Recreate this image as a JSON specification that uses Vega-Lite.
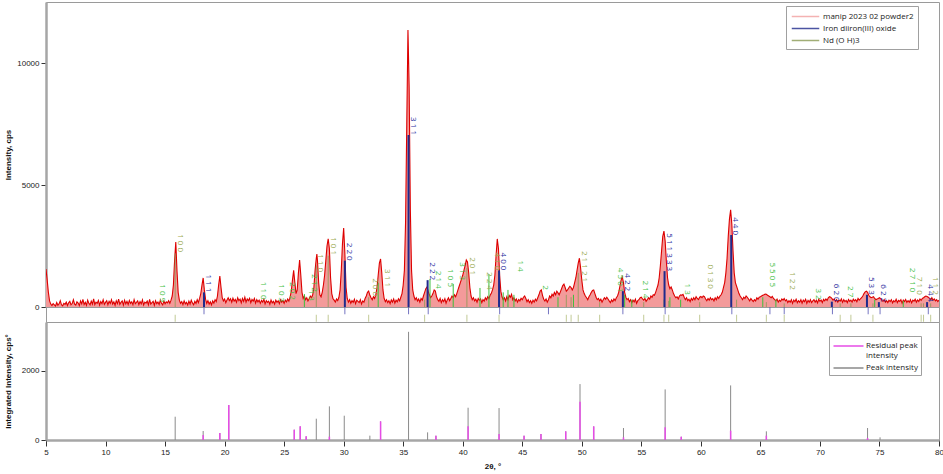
{
  "$schema": "https://vega.github.io/schema/vega-lite/v6.json",
  "background": "white",
  "padding": {"left": 3, "top": 1, "right": 4, "bottom": 0},
  "spacing": 0,
  "bounds": "flush",
  "config": {
    "font": "Liberation Sans",
    "view": {"stroke": "#9a9a9a", "strokeWidth": 1},
    "axis": {"labelFontSize": 8, "titleFontSize": 8, "titleFontWeight": "bold", "labelColor": "#222", "titleColor": "#111", "tickColor": "#333", "domainColor": "#a6a6a6", "domainWidth": 2.5, "grid": false, "labelFont": "Liberation Sans", "titleFont": "Liberation Sans", "tickSize": 5},
    "legend": {"labelFont": "Open Sans", "labelFontSize": 8, "labelColor": "#222"}
  },
  "resolve": {"scale": {"x": "independent", "y": "independent", "color": "independent"}, "legend": {"color": "independent"}},
  "datasets": {
    "xrd": [
{"t":5.0,"c":1560},{"t":5.1,"c":1100},{"t":5.2,"c":600},{"t":5.3,"c":250},{"t":5.4,"c":120},{"t":5.5,"c":60},{"t":5.6,"c":140},{"t":5.7,"c":90},{"t":5.8,"c":40},{"t":5.9,"c":180},
{"t":6.0,"c":70},{"t":6.1,"c":130},{"t":6.2,"c":260},{"t":6.3,"c":90},{"t":6.4,"c":50},{"t":6.5,"c":150},{"t":6.6,"c":110},{"t":6.7,"c":200},{"t":6.8,"c":60},{"t":6.9,"c":170},
{"t":7.0,"c":230},{"t":7.1,"c":90},{"t":7.2,"c":140},{"t":7.3,"c":300},{"t":7.4,"c":120},{"t":7.5,"c":80},{"t":7.6,"c":210},{"t":7.7,"c":160},{"t":7.8,"c":60},{"t":7.9,"c":250},
{"t":8.0,"c":130},{"t":8.1,"c":310},{"t":8.2,"c":100},{"t":8.3,"c":190},{"t":8.4,"c":70},{"t":8.5,"c":280},{"t":8.6,"c":150},{"t":8.7,"c":90},{"t":8.8,"c":240},{"t":8.9,"c":120},
{"t":9.0,"c":330},{"t":9.1,"c":100},{"t":9.2,"c":200},{"t":9.3,"c":150},{"t":9.4,"c":270},{"t":9.5,"c":80},{"t":9.6,"c":220},{"t":9.7,"c":140},{"t":9.8,"c":300},{"t":9.9,"c":110},
{"t":10.0,"c":190},{"t":10.1,"c":260},{"t":10.2,"c":90},{"t":10.3,"c":230},{"t":10.4,"c":150},{"t":10.5,"c":300},{"t":10.6,"c":120},{"t":10.7,"c":210},{"t":10.8,"c":70},{"t":10.9,"c":260},
{"t":11.0,"c":140},{"t":11.1,"c":320},{"t":11.2,"c":110},{"t":11.3,"c":190},{"t":11.4,"c":250},{"t":11.5,"c":80},{"t":11.6,"c":280},{"t":11.7,"c":130},{"t":11.8,"c":230},{"t":11.9,"c":100},
{"t":12.0,"c":270},{"t":12.1,"c":150},{"t":12.2,"c":210},{"t":12.3,"c":90},{"t":12.4,"c":300},{"t":12.5,"c":140},{"t":12.6,"c":190},{"t":12.7,"c":250},{"t":12.8,"c":100},{"t":12.9,"c":220},
{"t":13.0,"c":130},{"t":13.1,"c":290},{"t":13.2,"c":80},{"t":13.3,"c":200},{"t":13.4,"c":160},{"t":13.5,"c":240},{"t":13.6,"c":90},{"t":13.7,"c":310},{"t":13.8,"c":120},{"t":13.9,"c":180},
{"t":14.0,"c":230},{"t":14.1,"c":70},{"t":14.2,"c":260},{"t":14.3,"c":140},{"t":14.4,"c":200},{"t":14.5,"c":100},{"t":14.6,"c":280},{"t":14.7,"c":150},{"t":14.8,"c":90},{"t":14.9,"c":240},
{"t":15.0,"c":130},{"t":15.1,"c":210},{"t":15.2,"c":170},{"t":15.3,"c":260},{"t":15.4,"c":150},{"t":15.5,"c":280},{"t":15.6,"c":450},{"t":15.7,"c":900},{"t":15.8,"c":1900},{"t":15.9,"c":2660},
{"t":16.0,"c":1500},{"t":16.1,"c":600},{"t":16.2,"c":280},{"t":16.3,"c":150},{"t":16.4,"c":220},{"t":16.5,"c":100},{"t":16.6,"c":250},{"t":16.7,"c":130},{"t":16.8,"c":190},{"t":16.9,"c":80},
{"t":17.0,"c":240},{"t":17.1,"c":120},{"t":17.2,"c":280},{"t":17.3,"c":160},{"t":17.4,"c":90},{"t":17.5,"c":230},{"t":17.6,"c":150},{"t":17.7,"c":300},{"t":17.8,"c":180},{"t":17.9,"c":350},
{"t":18.0,"c":550},{"t":18.1,"c":900},{"t":18.2,"c":1190},{"t":18.3,"c":700},{"t":18.4,"c":320},{"t":18.5,"c":150},{"t":18.6,"c":260},{"t":18.7,"c":120},{"t":18.8,"c":210},{"t":18.9,"c":90},
{"t":19.0,"c":250},{"t":19.1,"c":160},{"t":19.2,"c":300},{"t":19.3,"c":220},{"t":19.4,"c":450},{"t":19.5,"c":900},{"t":19.6,"c":1270},{"t":19.7,"c":800},{"t":19.8,"c":380},{"t":19.9,"c":250},
{"t":20.0,"c":330},{"t":20.1,"c":180},{"t":20.2,"c":290},{"t":20.3,"c":380},{"t":20.4,"c":260},{"t":20.5,"c":340},{"t":20.6,"c":200},{"t":20.7,"c":360},{"t":20.8,"c":240},{"t":20.9,"c":310},
{"t":21.0,"c":190},{"t":21.1,"c":380},{"t":21.2,"c":260},{"t":21.3,"c":320},{"t":21.4,"c":170},{"t":21.5,"c":350},{"t":21.6,"c":230},{"t":21.7,"c":400},{"t":21.8,"c":200},{"t":21.9,"c":330},
{"t":22.0,"c":260},{"t":22.1,"c":360},{"t":22.2,"c":180},{"t":22.3,"c":310},{"t":22.4,"c":240},{"t":22.5,"c":350},{"t":22.6,"c":160},{"t":22.7,"c":300},{"t":22.8,"c":210},{"t":22.9,"c":280},
{"t":23.0,"c":150},{"t":23.1,"c":270},{"t":23.2,"c":200},{"t":23.3,"c":320},{"t":23.4,"c":130},{"t":23.5,"c":260},{"t":23.6,"c":190},{"t":23.7,"c":240},{"t":23.8,"c":110},{"t":23.9,"c":290},
{"t":24.0,"c":170},{"t":24.1,"c":230},{"t":24.2,"c":120},{"t":24.3,"c":280},{"t":24.4,"c":190},{"t":24.5,"c":250},{"t":24.6,"c":140},{"t":24.7,"c":300},{"t":24.8,"c":200},{"t":24.9,"c":260},
{"t":25.0,"c":150},{"t":25.1,"c":280},{"t":25.2,"c":210},{"t":25.3,"c":330},{"t":25.4,"c":240},{"t":25.5,"c":400},{"t":25.6,"c":650},{"t":25.7,"c":1100},{"t":25.8,"c":1500},{"t":25.9,"c":1000},
{"t":26.0,"c":550},{"t":26.1,"c":700},{"t":26.2,"c":1400},{"t":26.3,"c":1920},{"t":26.4,"c":1300},{"t":26.5,"c":600},{"t":26.6,"c":350},{"t":26.7,"c":450},{"t":26.8,"c":300},{"t":26.9,"c":380},
{"t":27.0,"c":250},{"t":27.1,"c":340},{"t":27.2,"c":450},{"t":27.3,"c":380},{"t":27.4,"c":500},{"t":27.5,"c":800},{"t":27.6,"c":1500},{"t":27.7,"c":2000},{"t":27.75,"c":2170},{"t":27.8,"c":1900},{"t":27.9,"c":1000},
{"t":28.0,"c":500},{"t":28.1,"c":420},{"t":28.2,"c":600},{"t":28.3,"c":900},{"t":28.4,"c":1300},{"t":28.5,"c":1900},{"t":28.6,"c":2500},{"t":28.7,"c":2790},{"t":28.8,"c":2400},{"t":28.9,"c":1200},
{"t":29.0,"c":550},{"t":29.1,"c":350},{"t":29.2,"c":280},{"t":29.3,"c":200},{"t":29.4,"c":330},{"t":29.5,"c":260},{"t":29.6,"c":400},{"t":29.7,"c":700},{"t":29.8,"c":1500},{"t":29.9,"c":2600},
{"t":30.0,"c":3240},{"t":30.1,"c":2200},{"t":30.2,"c":800},{"t":30.3,"c":350},{"t":30.4,"c":200},{"t":30.5,"c":300},{"t":30.6,"c":150},{"t":30.7,"c":260},{"t":30.8,"c":190},{"t":30.9,"c":320},
{"t":31.0,"c":140},{"t":31.1,"c":280},{"t":31.2,"c":230},{"t":31.3,"c":180},{"t":31.4,"c":300},{"t":31.5,"c":120},{"t":31.6,"c":250},{"t":31.7,"c":200},{"t":31.8,"c":350},{"t":31.9,"c":450},
{"t":32.0,"c":600},{"t":32.1,"c":650},{"t":32.2,"c":480},{"t":32.3,"c":380},{"t":32.4,"c":300},{"t":32.5,"c":420},{"t":32.6,"c":350},{"t":32.7,"c":500},{"t":32.8,"c":800},{"t":32.9,"c":1300},
{"t":33.0,"c":1800},{"t":33.1,"c":1970},{"t":33.2,"c":1400},{"t":33.3,"c":700},{"t":33.4,"c":350},{"t":33.5,"c":220},{"t":33.6,"c":300},{"t":33.7,"c":180},{"t":33.8,"c":260},{"t":33.9,"c":140},
{"t":34.0,"c":290},{"t":34.1,"c":200},{"t":34.2,"c":330},{"t":34.3,"c":160},{"t":34.4,"c":280},{"t":34.5,"c":210},{"t":34.6,"c":340},{"t":34.7,"c":250},{"t":34.8,"c":400},{"t":34.9,"c":550},
{"t":35.0,"c":900},{"t":35.1,"c":1500},{"t":35.2,"c":3500},{"t":35.3,"c":7500},{"t":35.4,"c":11350},{"t":35.5,"c":9000},{"t":35.6,"c":4000},{"t":35.7,"c":1500},{"t":35.8,"c":700},{"t":35.9,"c":450},
{"t":36.0,"c":300},{"t":36.1,"c":380},{"t":36.2,"c":250},{"t":36.3,"c":330},{"t":36.4,"c":200},{"t":36.5,"c":350},{"t":36.6,"c":280},{"t":36.7,"c":450},{"t":36.8,"c":600},{"t":36.9,"c":750},
{"t":37.0,"c":820},{"t":37.1,"c":650},{"t":37.2,"c":500},{"t":37.3,"c":380},{"t":37.4,"c":450},{"t":37.5,"c":550},{"t":37.6,"c":700},{"t":37.7,"c":650},{"t":37.8,"c":420},{"t":37.9,"c":300},
{"t":38.0,"c":230},{"t":38.1,"c":350},{"t":38.2,"c":180},{"t":38.3,"c":300},{"t":38.4,"c":220},{"t":38.5,"c":340},{"t":38.6,"c":160},{"t":38.7,"c":290},{"t":38.8,"c":380},{"t":38.9,"c":260},
{"t":39.0,"c":350},{"t":39.1,"c":450},{"t":39.2,"c":380},{"t":39.3,"c":500},{"t":39.4,"c":420},{"t":39.5,"c":550},{"t":39.6,"c":700},{"t":39.7,"c":850},{"t":39.8,"c":1000},{"t":39.9,"c":1150},
{"t":40.0,"c":1300},{"t":40.1,"c":1500},{"t":40.2,"c":1700},{"t":40.3,"c":1930},{"t":40.4,"c":1850},{"t":40.5,"c":1400},{"t":40.6,"c":800},{"t":40.7,"c":450},{"t":40.8,"c":300},{"t":40.9,"c":380},
{"t":41.0,"c":250},{"t":41.1,"c":320},{"t":41.2,"c":200},{"t":41.3,"c":350},{"t":41.4,"c":270},{"t":41.5,"c":330},{"t":41.6,"c":180},{"t":41.7,"c":300},{"t":41.8,"c":240},{"t":41.9,"c":380},
{"t":42.0,"c":300},{"t":42.1,"c":420},{"t":42.2,"c":350},{"t":42.3,"c":480},{"t":42.4,"c":560},{"t":42.5,"c":700},{"t":42.6,"c":900},{"t":42.7,"c":1300},{"t":42.8,"c":2100},{"t":42.9,"c":2790},
{"t":43.0,"c":2400},{"t":43.1,"c":1300},{"t":43.2,"c":650},{"t":43.3,"c":420},{"t":43.4,"c":300},{"t":43.5,"c":380},{"t":43.6,"c":250},{"t":43.7,"c":420},{"t":43.8,"c":300},{"t":43.9,"c":480},
{"t":44.0,"c":400},{"t":44.1,"c":520},{"t":44.2,"c":300},{"t":44.3,"c":380},{"t":44.4,"c":250},{"t":44.5,"c":330},{"t":44.6,"c":200},{"t":44.7,"c":310},{"t":44.8,"c":250},{"t":44.9,"c":360},
{"t":45.0,"c":300},{"t":45.1,"c":400},{"t":45.2,"c":450},{"t":45.3,"c":350},{"t":45.4,"c":220},{"t":45.5,"c":300},{"t":45.6,"c":180},{"t":45.7,"c":260},{"t":45.8,"c":150},{"t":45.9,"c":280},
{"t":46.0,"c":200},{"t":46.1,"c":320},{"t":46.2,"c":250},{"t":46.3,"c":380},{"t":46.4,"c":500},{"t":46.5,"c":650},{"t":46.6,"c":700},{"t":46.7,"c":480},{"t":46.8,"c":320},{"t":46.9,"c":250},
{"t":47.0,"c":330},{"t":47.1,"c":200},{"t":47.2,"c":300},{"t":47.3,"c":450},{"t":47.4,"c":380},{"t":47.5,"c":520},{"t":47.6,"c":450},{"t":47.7,"c":600},{"t":47.8,"c":500},{"t":47.9,"c":650},
{"t":48.0,"c":580},{"t":48.1,"c":500},{"t":48.2,"c":620},{"t":48.3,"c":750},{"t":48.4,"c":880},{"t":48.5,"c":940},{"t":48.6,"c":800},{"t":48.7,"c":650},{"t":48.8,"c":700},{"t":48.9,"c":780},
{"t":49.0,"c":850},{"t":49.1,"c":800},{"t":49.2,"c":700},{"t":49.3,"c":800},{"t":49.4,"c":1000},{"t":49.5,"c":1200},{"t":49.6,"c":1500},{"t":49.7,"c":1800},{"t":49.8,"c":2000},{"t":49.9,"c":1600},
{"t":50.0,"c":1100},{"t":50.1,"c":700},{"t":50.2,"c":550},{"t":50.3,"c":450},{"t":50.4,"c":380},{"t":50.5,"c":300},{"t":50.6,"c":420},{"t":50.7,"c":500},{"t":50.8,"c":600},{"t":50.9,"c":680},
{"t":51.0,"c":700},{"t":51.1,"c":550},{"t":51.2,"c":400},{"t":51.3,"c":300},{"t":51.4,"c":350},{"t":51.5,"c":250},{"t":51.6,"c":320},{"t":51.7,"c":200},{"t":51.8,"c":300},{"t":51.9,"c":380},
{"t":52.0,"c":320},{"t":52.1,"c":400},{"t":52.2,"c":330},{"t":52.3,"c":250},{"t":52.4,"c":180},{"t":52.5,"c":290},{"t":52.6,"c":220},{"t":52.7,"c":330},{"t":52.8,"c":260},{"t":52.9,"c":380},
{"t":53.0,"c":450},{"t":53.1,"c":600},{"t":53.2,"c":850},{"t":53.3,"c":1100},{"t":53.4,"c":1230},{"t":53.5,"c":1000},{"t":53.6,"c":600},{"t":53.7,"c":400},{"t":53.8,"c":300},{"t":53.9,"c":350},
{"t":54.0,"c":220},{"t":54.1,"c":300},{"t":54.2,"c":180},{"t":54.3,"c":280},{"t":54.4,"c":210},{"t":54.5,"c":320},{"t":54.6,"c":150},{"t":54.7,"c":260},{"t":54.8,"c":300},{"t":54.9,"c":380},
{"t":55.0,"c":400},{"t":55.1,"c":330},{"t":55.2,"c":280},{"t":55.3,"c":350},{"t":55.4,"c":230},{"t":55.5,"c":300},{"t":55.6,"c":380},{"t":55.7,"c":320},{"t":55.8,"c":450},{"t":55.9,"c":400},
{"t":56.0,"c":500},{"t":56.1,"c":480},{"t":56.2,"c":600},{"t":56.3,"c":750},{"t":56.4,"c":900},{"t":56.5,"c":1200},{"t":56.6,"c":1700},{"t":56.7,"c":2300},{"t":56.8,"c":2900},{"t":56.9,"c":3110},
{"t":57.0,"c":2700},{"t":57.1,"c":1900},{"t":57.2,"c":1200},{"t":57.3,"c":900},{"t":57.4,"c":750},{"t":57.5,"c":820},{"t":57.6,"c":700},{"t":57.7,"c":550},{"t":57.8,"c":450},{"t":57.9,"c":380},
{"t":58.0,"c":420},{"t":58.1,"c":330},{"t":58.2,"c":450},{"t":58.3,"c":500},{"t":58.4,"c":480},{"t":58.5,"c":520},{"t":58.6,"c":400},{"t":58.7,"c":300},{"t":58.8,"c":380},{"t":58.9,"c":260},
{"t":59.0,"c":320},{"t":59.1,"c":220},{"t":59.2,"c":350},{"t":59.3,"c":280},{"t":59.4,"c":380},{"t":59.5,"c":300},{"t":59.6,"c":420},{"t":59.7,"c":350},{"t":59.8,"c":300},{"t":59.9,"c":400},
{"t":60.0,"c":430},{"t":60.1,"c":380},{"t":60.2,"c":450},{"t":60.3,"c":420},{"t":60.4,"c":330},{"t":60.5,"c":260},{"t":60.6,"c":350},{"t":60.7,"c":280},{"t":60.8,"c":380},{"t":60.9,"c":300},
{"t":61.0,"c":340},{"t":61.1,"c":250},{"t":61.2,"c":380},{"t":61.3,"c":300},{"t":61.4,"c":420},{"t":61.5,"c":350},{"t":61.6,"c":450},{"t":61.7,"c":500},{"t":61.8,"c":600},{"t":61.9,"c":800},
{"t":62.0,"c":1000},{"t":62.1,"c":1400},{"t":62.2,"c":2000},{"t":62.3,"c":2900},{"t":62.4,"c":3600},{"t":62.5,"c":3980},{"t":62.6,"c":3400},{"t":62.7,"c":2300},{"t":62.8,"c":1400},{"t":62.9,"c":1000},
{"t":63.0,"c":850},{"t":63.1,"c":700},{"t":63.2,"c":550},{"t":63.3,"c":450},{"t":63.4,"c":380},{"t":63.5,"c":300},{"t":63.6,"c":400},{"t":63.7,"c":350},{"t":63.8,"c":450},{"t":63.9,"c":400},
{"t":64.0,"c":330},{"t":64.1,"c":250},{"t":64.2,"c":350},{"t":64.3,"c":280},{"t":64.4,"c":220},{"t":64.5,"c":300},{"t":64.6,"c":250},{"t":64.7,"c":380},{"t":64.8,"c":320},{"t":64.9,"c":400},
{"t":65.0,"c":420},{"t":65.1,"c":450},{"t":65.2,"c":480},{"t":65.3,"c":500},{"t":65.4,"c":530},{"t":65.5,"c":520},{"t":65.6,"c":480},{"t":65.7,"c":450},{"t":65.8,"c":420},{"t":65.9,"c":380},
{"t":66.0,"c":430},{"t":66.1,"c":350},{"t":66.2,"c":300},{"t":66.3,"c":250},{"t":66.4,"c":320},{"t":66.5,"c":200},{"t":66.6,"c":280},{"t":66.7,"c":230},{"t":66.8,"c":330},{"t":66.9,"c":280},
{"t":67.0,"c":350},{"t":67.1,"c":250},{"t":67.2,"c":300},{"t":67.3,"c":180},{"t":67.4,"c":260},{"t":67.5,"c":200},{"t":67.6,"c":300},{"t":67.7,"c":150},{"t":67.8,"c":280},{"t":67.9,"c":220},
{"t":68.0,"c":320},{"t":68.1,"c":180},{"t":68.2,"c":260},{"t":68.3,"c":200},{"t":68.4,"c":300},{"t":68.5,"c":160},{"t":68.6,"c":280},{"t":68.7,"c":220},{"t":68.8,"c":320},{"t":68.9,"c":150},
{"t":69.0,"c":270},{"t":69.1,"c":200},{"t":69.2,"c":300},{"t":69.3,"c":180},{"t":69.4,"c":250},{"t":69.5,"c":300},{"t":69.6,"c":200},{"t":69.7,"c":280},{"t":69.8,"c":170},{"t":69.9,"c":320},
{"t":70.0,"c":230},{"t":70.1,"c":290},{"t":70.2,"c":180},{"t":70.3,"c":310},{"t":70.4,"c":250},{"t":70.5,"c":330},{"t":70.6,"c":270},{"t":70.7,"c":380},{"t":70.8,"c":420},{"t":70.9,"c":400},
{"t":71.0,"c":350},{"t":71.1,"c":280},{"t":71.2,"c":330},{"t":71.3,"c":230},{"t":71.4,"c":300},{"t":71.5,"c":200},{"t":71.6,"c":280},{"t":71.7,"c":240},{"t":71.8,"c":330},{"t":71.9,"c":190},
{"t":72.0,"c":300},{"t":72.1,"c":220},{"t":72.2,"c":270},{"t":72.3,"c":180},{"t":72.4,"c":310},{"t":72.5,"c":230},{"t":72.6,"c":280},{"t":72.7,"c":200},{"t":72.8,"c":320},{"t":72.9,"c":250},
{"t":73.0,"c":300},{"t":73.1,"c":220},{"t":73.2,"c":350},{"t":73.3,"c":280},{"t":73.4,"c":330},{"t":73.5,"c":380},{"t":73.6,"c":450},{"t":73.7,"c":550},{"t":73.8,"c":620},{"t":73.9,"c":650},
{"t":74.0,"c":600},{"t":74.1,"c":480},{"t":74.2,"c":420},{"t":74.3,"c":380},{"t":74.4,"c":400},{"t":74.5,"c":420},{"t":74.6,"c":350},{"t":74.7,"c":300},{"t":74.8,"c":330},{"t":74.9,"c":350},
{"t":75.0,"c":380},{"t":75.1,"c":340},{"t":75.2,"c":280},{"t":75.3,"c":230},{"t":75.4,"c":300},{"t":75.5,"c":200},{"t":75.6,"c":260},{"t":75.7,"c":180},{"t":75.8,"c":280},{"t":75.9,"c":220},
{"t":76.0,"c":300},{"t":76.1,"c":170},{"t":76.2,"c":260},{"t":76.3,"c":210},{"t":76.4,"c":320},{"t":76.5,"c":180},{"t":76.6,"c":270},{"t":76.7,"c":230},{"t":76.8,"c":300},{"t":76.9,"c":160},
{"t":77.0,"c":280},{"t":77.1,"c":220},{"t":77.2,"c":310},{"t":77.3,"c":190},{"t":77.4,"c":260},{"t":77.5,"c":200},{"t":77.6,"c":300},{"t":77.7,"c":170},{"t":77.8,"c":280},{"t":77.9,"c":240},
{"t":78.0,"c":320},{"t":78.1,"c":200},{"t":78.2,"c":290},{"t":78.3,"c":230},{"t":78.4,"c":330},{"t":78.5,"c":270},{"t":78.6,"c":350},{"t":78.7,"c":380},{"t":78.8,"c":420},{"t":78.9,"c":450},
{"t":79.0,"c":430},{"t":79.1,"c":400},{"t":79.2,"c":350},{"t":79.3,"c":300},{"t":79.4,"c":380},{"t":79.5,"c":280},{"t":79.6,"c":330},{"t":79.7,"c":250},{"t":79.8,"c":300},{"t":79.9,"c":220},{"t":80.0,"c":280}
    ],
    "ref": [
{"p":18.27,"i":600,"ph":"Fe"},{"p":30.1,"i":1900,"ph":"Fe"},{"p":35.45,"i":7050,"ph":"Fe"},{"p":37.05,"i":1100,"ph":"Fe"},{"p":43.05,"i":1500,"ph":"Fe"},{"p":53.45,"i":650,"ph":"Fe"},{"p":56.95,"i":1470,"ph":"Fe"},{"p":62.55,"i":2950,"ph":"Fe"},{"p":71.0,"i":220,"ph":"Fe"},{"p":73.95,"i":500,"ph":"Fe"},{"p":74.95,"i":200,"ph":"Fe"},{"p":79.0,"i":200,"ph":"Fe"},
{"p":15.85,"i":2200,"ph":"Nd"},{"p":27.7,"i":1700,"ph":"Nd"},{"p":28.7,"i":2100,"ph":"Nd"},{"p":32.1,"i":400,"ph":"Nd"},{"p":36.8,"i":300,"ph":"Nd"},{"p":40.35,"i":1600,"ph":"Nd"},{"p":43.05,"i":500,"ph":"Nd"},{"p":48.7,"i":500,"ph":"Nd"},{"p":49.1,"i":400,"ph":"Nd"},{"p":49.7,"i":1400,"ph":"Nd"},{"p":51.5,"i":200,"ph":"Nd"},{"p":55.2,"i":200,"ph":"Nd"},{"p":56.9,"i":300,"ph":"Nd"},{"p":57.3,"i":250,"ph":"Nd"},{"p":59.9,"i":200,"ph":"Nd"},{"p":63.0,"i":300,"ph":"Nd"},{"p":65.5,"i":200,"ph":"Nd"},{"p":67.0,"i":150,"ph":"Nd"},{"p":71.7,"i":150,"ph":"Nd"},{"p":72.6,"i":150,"ph":"Nd"},{"p":74.45,"i":150,"ph":"Nd"},{"p":78.5,"i":150,"ph":"Nd"},{"p":78.7,"i":150,"ph":"Nd"},{"p":79.3,"i":150,"ph":"Nd"},
{"p":26.7,"i":530,"ph":"G"},{"p":32.9,"i":1000,"ph":"G"},{"p":37.25,"i":1150,"ph":"G"},{"p":39.2,"i":940,"ph":"G"},{"p":41.45,"i":780,"ph":"G"},{"p":42.2,"i":1350,"ph":"G"},{"p":43.4,"i":600,"ph":"G"},{"p":43.8,"i":700,"ph":"G"},{"p":44.3,"i":500,"ph":"G"},{"p":48.0,"i":400,"ph":"G"},{"p":49.3,"i":500,"ph":"G"},{"p":53.6,"i":500,"ph":"G"},{"p":54.2,"i":300,"ph":"G"},{"p":57.4,"i":400,"ph":"G"},{"p":58.3,"i":300,"ph":"G"},{"p":65.2,"i":400,"ph":"G"},{"p":66.3,"i":300,"ph":"G"},{"p":74.6,"i":300,"ph":"G"},{"p":77.0,"i":250,"ph":"G"}
    ],
    "lab": [
{"p":18.27,"h":600,"l":"1 1 1","k":"b"},{"p":30.1,"h":1900,"l":"2 2 0","k":"b"},{"p":35.45,"h":7050,"l":"3 1 1","k":"b"},{"p":37.05,"h":1100,"l":"2 2 2","k":"b"},{"p":43.05,"h":1500,"l":"4 0 0","k":"b"},{"p":53.45,"h":650,"l":"4 2 2","k":"b"},{"p":56.95,"h":1470,"l":"5 1 1 3 3 3","k":"b"},{"p":62.55,"h":2950,"l":"4 4 0","k":"b"},{"p":71.0,"h":220,"l":"6 2 0","k":"b"},{"p":73.95,"h":500,"l":"5 3 3","k":"b"},{"p":74.95,"h":200,"l":"6 2 2","k":"b"},{"p":78.95,"h":200,"l":"4 4 4","k":"b"},
{"p":15.9,"h":2250,"l":"1 0 0","k":"o"},{"p":27.7,"h":1430,"l":"1 1 0","k":"o"},{"p":28.75,"h":2130,"l":"1 0 1","k":"o"},{"p":33.3,"h":820,"l":"3 1 1","k":"o"},{"p":32.3,"h":450,"l":"2 0 0","k":"o"},{"p":40.45,"h":1310,"l":"2 0 1","k":"o"},{"p":41.9,"h":700,"l":"2 2 4","k":"o"},{"p":42.55,"h":1500,"l":"4 1 0","k":"o"},{"p":49.85,"h":1020,"l":"2 1 1 2 1","k":"o"},{"p":60.4,"h":740,"l":"0 1 3 0","k":"o"},{"p":67.35,"h":700,"l":"1 2 2","k":"o"},{"p":78.0,"h":500,"l":"7 1 0","k":"o"},{"p":79.3,"h":500,"l":"1 1 2","k":"o"},
{"p":14.4,"h":200,"l":"1 0 9","k":"g"},{"p":22.9,"h":300,"l":"1 1 0","k":"g"},{"p":24.4,"h":200,"l":"1 0 3","k":"g"},{"p":25.3,"h":290,"l":"2 0 2","k":"g"},{"p":27.2,"h":620,"l":"2 1 2","k":"g"},{"p":26.9,"h":250,"l":"1 3","k":"g"},{"p":37.6,"h":750,"l":"2 1 4","k":"g"},{"p":38.6,"h":820,"l":"1 0 5","k":"g"},{"p":39.6,"h":1100,"l":"3 1 3","k":"g"},{"p":44.5,"h":1450,"l":"1 4","k":"g"},{"p":46.6,"h":700,"l":"2","k":"g"},{"p":52.9,"h":600,"l":"4 5 0 1","k":"g"},{"p":55.0,"h":350,"l":"2 1 4","k":"g"},{"p":58.5,"h":500,"l":"1 3","k":"g"},{"p":65.6,"h":820,"l":"5 5 0 5","k":"g"},{"p":69.5,"h":300,"l":"3 2","k":"g"},{"p":72.2,"h":400,"l":"2 7","k":"g"},{"p":77.4,"h":600,"l":"2 7 1 0","k":"g"}
    ],
    "strip": [
{"p":18.27,"ph":"Fe"},{"p":30.1,"ph":"Fe"},{"p":35.45,"ph":"Fe"},{"p":37.1,"ph":"Fe"},{"p":43.1,"ph":"Fe"},{"p":47.2,"ph":"Fe"},{"p":53.45,"ph":"Fe"},{"p":57.0,"ph":"Fe"},{"p":62.6,"ph":"Fe"},{"p":65.8,"ph":"Fe"},{"p":67.0,"ph":"Fe"},{"p":71.05,"ph":"Fe"},{"p":74.05,"ph":"Fe"},{"p":75.05,"ph":"Fe"},{"p":79.1,"ph":"Fe"},
{"p":15.85,"ph":"Nd"},{"p":27.7,"ph":"Nd"},{"p":28.7,"ph":"Nd"},{"p":32.1,"ph":"Nd"},{"p":36.8,"ph":"Nd"},{"p":40.35,"ph":"Nd"},{"p":43.05,"ph":"Nd"},{"p":48.7,"ph":"Nd"},{"p":49.1,"ph":"Nd"},{"p":49.7,"ph":"Nd"},{"p":51.5,"ph":"Nd"},{"p":55.2,"ph":"Nd"},{"p":56.9,"ph":"Nd"},{"p":57.3,"ph":"Nd"},{"p":59.9,"ph":"Nd"},{"p":63.0,"ph":"Nd"},{"p":65.5,"ph":"Nd"},{"p":67.0,"ph":"Nd"},{"p":71.7,"ph":"Nd"},{"p":72.6,"ph":"Nd"},{"p":74.45,"ph":"Nd"},{"p":78.5,"ph":"Nd"},{"p":78.7,"ph":"Nd"},{"p":79.3,"ph":"Nd"}
    ],
    "pk": [
{"p":15.85,"g":671,"r":0},{"p":18.2,"g":259,"r":144},{"p":19.6,"g":201,"r":201},{"p":20.35,"g":1007,"r":1007},{"p":25.85,"g":297,"r":297},{"p":26.35,"g":393,"r":393},{"p":26.85,"g":105,"r":105},{"p":27.7,"g":614,"r":0},{"p":28.8,"g":969,"r":96},{"p":30.05,"g":700,"r":0},{"p":32.2,"g":125,"r":0},{"p":33.1,"g":537,"r":537},{"p":35.45,"g":3117,"r":0},{"p":37.05,"g":220,"r":0},{"p":37.75,"g":125,"r":125},{"p":40.45,"g":930,"r":393},{"p":43.05,"g":920,"r":173},{"p":45.15,"g":125,"r":125},{"p":46.57,"g":173,"r":173},{"p":48.65,"g":250,"r":250},{"p":49.85,"g":1611,"r":1103},{"p":51.0,"g":393,"r":393},{"p":53.5,"g":345,"r":77},{"p":57.0,"g":1458,"r":364},{"p":58.35,"g":96,"r":96},{"p":62.5,"g":1573,"r":268},{"p":65.5,"g":250,"r":125},{"p":74.0,"g":345,"r":60},{"p":75.05,"g":77,"r":0}
    ]
  },
  "vconcat": [
    {
      "width": 893,
      "height": 305,
      "layer": [
        {
          "data": {"name": "xrd"},
          "mark": {"type": "area", "color": "#f39a9a", "clip": true},
          "encoding": {
            "x": {"field": "t", "type": "quantitative", "scale": {"domain": [5, 80], "nice": false, "zero": false}, "axis": null},
            "y": {"field": "c", "type": "quantitative", "scale": {"domain": [0, 12500], "nice": false},
              "axis": {"values": [0, 5000, 10000], "format": "d", "title": "Intensity, cps", "titleX": -34, "labelPadding": 2}}
          }
        },
        {
          "data": {"name": "xrd"},
          "mark": {"type": "line", "color": "#dd0000", "strokeWidth": 1.1, "clip": true},
          "encoding": {
            "x": {"field": "t", "type": "quantitative"},
            "y": {"field": "c", "type": "quantitative"}
          }
        },
        {
          "data": {"name": "ref"},
          "transform": [{"filter": "datum.ph === 'Nd'"}],
          "mark": {"type": "rule", "strokeWidth": 1, "opacity": 0.8},
          "encoding": {
            "x": {"field": "p", "type": "quantitative"},
            "y": {"field": "i", "type": "quantitative"},
            "y2": {"datum": 0},
            "color": {"datum": "Nd (O H)3", "type": "nominal",
              "scale": {"domain": ["manip 2023 02 powder2", "Iron diiron(III) oxide", "Nd (O H)3"], "range": ["#f2a0a0", "#1f2a8c", "#8a9a55"]},
              "legend": {"orient": "none", "legendX": 740, "legendY": 4, "title": null, "symbolType": "M-2.5,0H2.5", "symbolSize": 121, "symbolStrokeWidth": 1.5, "symbolOffset": 9, "strokeColor": "#a0a0a0", "fillColor": "white", "padding": 4, "rowPadding": 1, "labelOffset": 11}}
          }
        },
        {
          "data": {"name": "ref"},
          "transform": [{"filter": "datum.ph === 'G'"}],
          "mark": {"type": "rule", "strokeWidth": 1, "color": "#3cc03c"},
          "encoding": {
            "x": {"field": "p", "type": "quantitative"},
            "y": {"field": "i", "type": "quantitative"},
            "y2": {"datum": 0}
          }
        },
        {
          "data": {"name": "ref"},
          "transform": [{"filter": "datum.ph === 'Fe'"}],
          "mark": {"type": "rule", "strokeWidth": 2},
          "encoding": {
            "x": {"field": "p", "type": "quantitative"},
            "y": {"field": "i", "type": "quantitative"},
            "y2": {"datum": 0},
            "color": {"datum": "Iron diiron(III) oxide", "type": "nominal"}
          }
        },
        {
          "data": {"name": "lab"},
          "transform": [{"filter": "datum.k === 'g'"}],
          "mark": {"type": "text", "angle": 90, "align": "right", "baseline": "bottom", "fontSize": 8, "font": "Open Sans", "color": "#44c044"},
          "encoding": {"x": {"field": "p", "type": "quantitative"}, "y": {"field": "h", "type": "quantitative"}, "text": {"field": "l", "type": "nominal"}}
        },
        {
          "data": {"name": "lab"},
          "transform": [{"filter": "datum.k === 'o'"}],
          "mark": {"type": "text", "angle": 90, "align": "right", "baseline": "bottom", "fontSize": 8, "font": "Open Sans", "color": "#9aaa50"},
          "encoding": {"x": {"field": "p", "type": "quantitative"}, "y": {"field": "h", "type": "quantitative"}, "text": {"field": "l", "type": "nominal"}}
        },
        {
          "data": {"name": "lab"},
          "transform": [{"filter": "datum.k === 'b'"}],
          "mark": {"type": "text", "angle": 90, "align": "right", "baseline": "bottom", "fontSize": 8, "font": "Open Sans", "color": "#1f2a9c"},
          "encoding": {"x": {"field": "p", "type": "quantitative"}, "y": {"field": "h", "type": "quantitative"}, "text": {"field": "l", "type": "nominal"}}
        }
      ]
    },
    {
      "width": 893,
      "height": 15,
      "data": {"name": "strip"},
      "layer": [
        {
          "transform": [{"filter": "datum.ph === 'Fe'"}],
          "mark": {"type": "tick", "color": "#3a3aa8", "orient": "vertical", "size": 7, "thickness": 1},
          "encoding": {
            "x": {"field": "p", "type": "quantitative", "scale": {"domain": [5, 80], "nice": false, "zero": false}, "axis": null},
            "y": {"datum": 1.5, "type": "quantitative", "scale": {"domain": [0, 2], "nice": false}, "axis": null}
          }
        },
        {
          "transform": [{"filter": "datum.ph === 'Nd'"}],
          "mark": {"type": "tick", "color": "#a8b46a", "orient": "vertical", "size": 7, "thickness": 1},
          "encoding": {
            "x": {"field": "p", "type": "quantitative"},
            "y": {"datum": 0.5, "type": "quantitative"}
          }
        }
      ]
    },
    {
      "width": 893,
      "height": 118,
      "data": {"name": "pk"},
      "layer": [
        {
          "mark": {"type": "rule", "strokeWidth": 1},
          "encoding": {
            "x": {"field": "p", "type": "quantitative", "scale": {"domain": [5, 80], "nice": false, "zero": false},
              "axis": {"values": [5,10,15,20,25,30,35,40,45,50,55,60,65,70,75,80], "tickSize": 6, "title": "2θ, °", "labelPadding": 2, "titlePadding": 6, "labelFlush": false}},
            "y": {"field": "g", "type": "quantitative", "scale": {"domain": [0, 3400], "nice": false},
              "axis": {"values": [0, 2000], "format": "d", "title": "Integrated Intensity, cps°", "titleX": -34, "labelPadding": 2}},
            "y2": {"datum": 0},
            "color": {"datum": "Peak intensity", "type": "nominal",
              "scale": {"domain": ["Residual peak intensity", "Peak intensity"], "range": ["#e64ce6", "#8a8a8a"]},
              "legend": {"orient": "none", "legendX": 783, "legendY": 14, "title": null, "symbolType": "M-2.5,0H2.5", "symbolSize": 144, "symbolStrokeWidth": 1.5, "symbolOffset": 9.5, "strokeColor": "#a0a0a0", "fillColor": "white", "padding": 3, "rowPadding": 1, "labelOffset": 10.5, "labelExpr": "datum.label === 'Residual peak intensity' ? ['Residual peak', 'intensity'] : datum.label"}}
          }
        },
        {
          "transform": [{"filter": "datum.r > 0"}],
          "mark": {"type": "rule", "strokeWidth": 1.5},
          "encoding": {
            "x": {"field": "p", "type": "quantitative"},
            "y": {"field": "r", "type": "quantitative"},
            "y2": {"datum": 0},
            "color": {"datum": "Residual peak intensity", "type": "nominal"}
          }
        }
      ]
    }
  ]
}
